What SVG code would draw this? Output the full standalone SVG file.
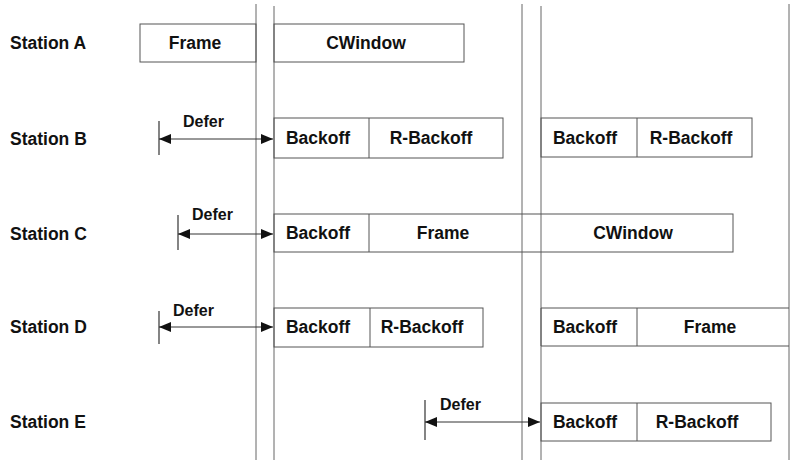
<svg xmlns="http://www.w3.org/2000/svg" width="798" height="460" viewBox="0 0 798 460">
<defs>
<marker id="ah" viewBox="0 0 12 10" refX="12" refY="5" markerWidth="12" markerHeight="10" markerUnits="userSpaceOnUse" orient="auto-start-reverse">
<path d="M0,0 L12,5 L0,10 z" fill="#111"/>
</marker>
<style>
text{font-family:"Liberation Sans",Arial,sans-serif;font-size:17.5px;font-weight:bold;fill:#111}
.c{text-anchor:middle}
.d{font-size:16px}
.box{fill:none;stroke:#555;stroke-width:1}
.vl{stroke:#666;stroke-width:1;fill:none}
.ar{stroke:#333;stroke-width:1;fill:none}
.tk{stroke:#333;stroke-width:1.2}
</style>
</defs>
<rect width="798" height="460" fill="#fff"/>
<g id="timelines">
<line class="vl" x1="256" y1="4" x2="256" y2="460"/>
<line class="vl" x1="274" y1="6" x2="274" y2="460"/>
<line class="vl" x1="522" y1="4" x2="522" y2="460"/>
<line class="vl" x1="541" y1="6" x2="541" y2="460"/>
<line class="vl" x1="789" y1="4" x2="789" y2="460"/>
</g>
<g id="labels">
<text x="10" y="49">Station A</text>
<text x="10" y="145">Station B</text>
<text x="10" y="240">Station C</text>
<text x="10" y="333">Station D</text>
<text x="10" y="428">Station E</text>
</g>
<g id="stationA">
<rect class="box" x="140" y="24" width="116" height="38"/>
<text class="c" x="195" y="49">Frame</text>
<rect class="box" x="274" y="24" width="190" height="38"/>
<text class="c" x="366" y="49">CWindow</text>
</g>
<g id="stationB">
<rect class="box" x="274" y="118" width="229" height="40"/>
<line class="box" x1="369" y1="118" x2="369" y2="158"/>
<text class="c" x="318" y="144">Backoff</text>
<text class="c" x="431" y="144">R-Backoff</text>
<rect class="box" x="541" y="118" width="211" height="39"/>
<line class="box" x1="637" y1="118" x2="637" y2="157"/>
<text class="c" x="585" y="144">Backoff</text>
<text class="c" x="691" y="144">R-Backoff</text>
</g>
<g id="stationC">
<rect class="box" x="274" y="214" width="459" height="38"/>
<line class="box" x1="369" y1="214" x2="369" y2="252"/>
<text class="c" x="318" y="239">Backoff</text>
<text class="c" x="443" y="239">Frame</text>
<text class="c" x="633" y="239">CWindow</text>
</g>
<g id="stationD">
<rect class="box" x="274" y="308" width="209" height="39"/>
<line class="box" x1="370" y1="308" x2="370" y2="347"/>
<text class="c" x="318" y="333">Backoff</text>
<text class="c" x="422" y="333">R-Backoff</text>
<path class="box" d="M789,308 H541 V346 H789"/>
<line class="box" x1="637" y1="308" x2="637" y2="346"/>
<text class="c" x="585" y="333">Backoff</text>
<text class="c" x="710" y="333">Frame</text>
</g>
<g id="stationE">
<rect class="box" x="541" y="403" width="230" height="38"/>
<line class="box" x1="637" y1="403" x2="637" y2="441"/>
<text class="c" x="585" y="428">Backoff</text>
<text class="c" x="697" y="428">R-Backoff</text>
</g>
<g id="connectors">
<line class="tk" x1="159" y1="121" x2="159" y2="155"/>
<line class="ar" x1="159" y1="139" x2="273" y2="139" marker-start="url(#ah)" marker-end="url(#ah)"/>
<text class="d" x="183" y="127">Defer</text>
<line class="tk" x1="178" y1="215" x2="178" y2="250"/>
<line class="ar" x1="178" y1="234" x2="273" y2="234" marker-start="url(#ah)" marker-end="url(#ah)"/>
<text class="d" x="192" y="220">Defer</text>
<line class="tk" x1="159" y1="311" x2="159" y2="344"/>
<line class="ar" x1="159" y1="327" x2="273" y2="327" marker-start="url(#ah)" marker-end="url(#ah)"/>
<text class="d" x="173" y="316">Defer</text>
<line class="tk" x1="425" y1="400" x2="425" y2="440"/>
<line class="ar" x1="425" y1="422" x2="540" y2="422" marker-start="url(#ah)" marker-end="url(#ah)"/>
<text class="d" x="440" y="410">Defer</text>
</g>
</svg>
